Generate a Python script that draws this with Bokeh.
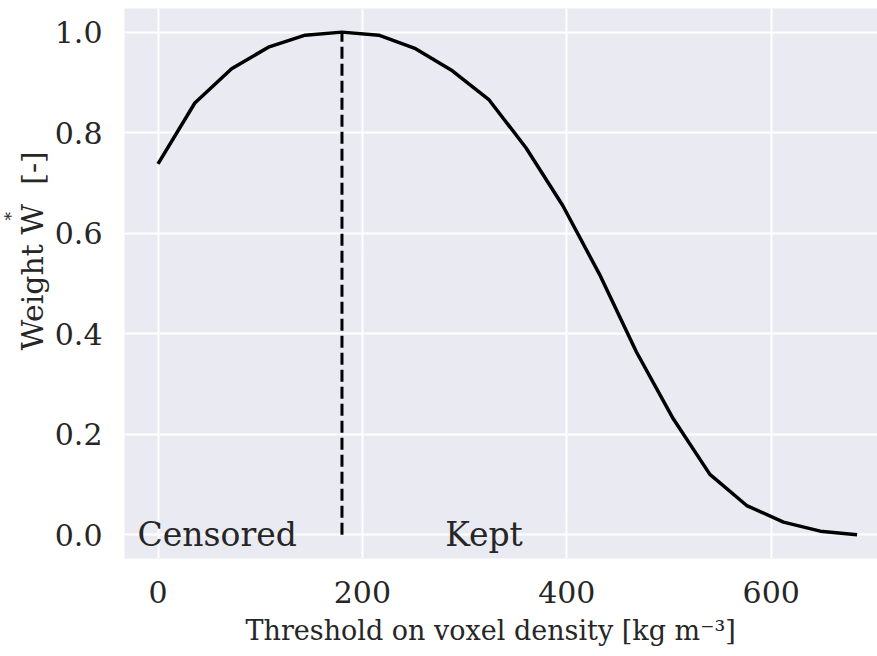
from bokeh.plotting import figure
from bokeh.models import Range1d, FixedTicker, Label, Title
from bokeh.embed import file_html
from bokeh.resources import INLINE

# Data
threshold = [0, 36, 72, 108, 144, 180, 216, 252, 288, 324,
             360, 396, 432, 468, 504, 540, 576, 612, 648, 684]
weight = [0.738, 0.859, 0.927, 0.970, 0.994, 1.000, 0.994, 0.967, 0.923, 0.865,
          0.770, 0.655, 0.518, 0.364, 0.231, 0.120, 0.058, 0.025, 0.007, 0.0]
cut_x = 180
cut_y = [0.0, 1.0]
x_ticks = [0, 200, 400, 600]
y_ticks = [0.0, 0.2, 0.4, 0.6, 0.8, 1.0]
region_labels = ["Censored", "Kept"]
region_x = [-20, 281]

FONT = "DejaVu Serif"
TXT = "#262626"

p = figure(width=877, height=656, output_backend="svg", toolbar_location=None,
           x_range=Range1d(-32.8, 704), y_range=Range1d(-0.0474, 1.047),
           min_border_left=124, min_border_right=0, min_border_top=8,
           min_border_bottom=98)
p.background_fill_color = "#EAEAF2"
p.border_fill_color = "white"
p.outline_line_color = None

for ax in (p.xaxis, p.yaxis):
    ax.axis_line_color = None
    ax.major_tick_line_color = None
    ax.minor_tick_line_color = None
    ax.major_tick_out = 0
    ax.major_tick_in = 0
    ax.major_label_text_font = FONT
    ax.major_label_text_font_size = "30px"
    ax.major_label_text_color = TXT

p.xaxis.ticker = FixedTicker(ticks=x_ticks)
p.yaxis.ticker = FixedTicker(ticks=y_ticks)
p.yaxis.major_label_overrides = {t: f"{t:.1f}" for t in y_ticks}
p.xaxis.major_label_standoff = 22
p.yaxis.major_label_standoff = 22

p.grid.grid_line_color = "white"
p.grid.grid_line_width = 2
p.xgrid.ticker = FixedTicker(ticks=x_ticks)
p.ygrid.ticker = FixedTicker(ticks=y_ticks)

p.line(threshold, weight, line_color="black", line_width=3.5)
p.line([cut_x, cut_x], cut_y, line_color="black", line_width=3, line_dash="12 5")

for t, x in zip(region_labels, region_x):
    p.add_layout(Label(x=x, y=0.0, text=t, text_font=FONT,
                       text_font_size="33px", text_color=TXT,
                       text_baseline="alphabetic", text_align="left"))

# axis labels as side titles (y label with a raised star)
xlab = Title(text="Threshold on voxel density [kg m\u207b\u00b3]", align="left",
             offset=121, text_font=FONT, text_font_size="27px",
             text_font_style="normal", text_color=TXT, standoff=15)
ylab_main = Title(text="Weight W\u00a0\u00a0[-]", align="left", offset=208,
                  text_font=FONT, text_font_size="30px", text_font_style="normal",
                  text_color=TXT, standoff=4)
ylab_star = Title(text="*", align="left", offset=338,
                  text_font=FONT, text_font_size="17px", text_font_style="normal",
                  text_color=TXT, standoff=-20)
p.add_layout(xlab, "below")
p.add_layout(ylab_main, "left")
p.add_layout(ylab_star, "left")

open("out.html", "w").write(file_html(p, INLINE))
